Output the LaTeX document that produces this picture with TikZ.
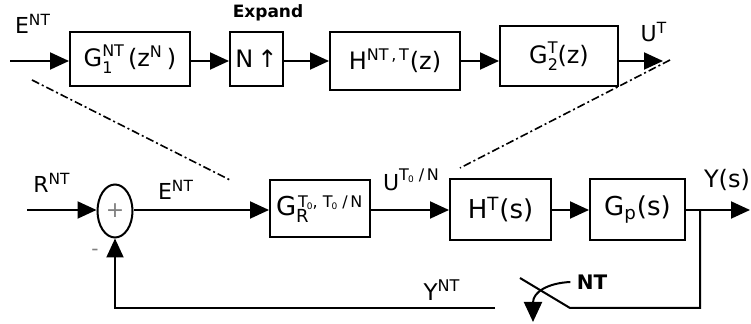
\documentclass[tikz,border=0pt]{standalone}
\usepackage{fontspec}
\setmainfont{DejaVu Sans}
\usetikzlibrary{arrows.meta,shapes.geometric}
\newcommand{\upsc}[1]{\textsuperscript{#1}}
% stacked index: subscript below, superscript above, both after the base letter
\newcommand{\subsup}[2]{\rlap{\raisebox{-3.5pt}{\fontsize{8}{8}\selectfont #1}}%
  \raisebox{5pt}{\fontsize{8}{8}\selectfont #2}}
\newcommand{\tnull}{T\kern-0.5pt\raisebox{-1pt}{\fontsize{4.5}{5}\selectfont 0}}

\begin{document}
\begin{tikzpicture}[x=0.5pt,y=-0.5pt,
  blk/.style={draw,line width=1pt,inner sep=0pt,align=center},
  sig/.style={line width=1pt,-{Triangle[length=9.5pt,width=8.5pt]}},
  wire/.style={line width=1pt},
  dd/.style={line width=0.8pt,dash pattern=on 4pt off 1.5pt on 1pt off 1.5pt},
  lbl/.style={inner sep=0pt,font=\fontsize{11}{13}\selectfont},
  topfont/.style={font=\fontsize{12}{14}\selectfont},
  botfont/.style={font=\fontsize{13}{15}\selectfont}]
\useasboundingbox (0,0) rectangle (751,324);

% --- upper chain: discrete-time realisation ---
\node[blk,topfont,minimum width=60pt,minimum height=27pt] (g1) at (130,59)
  {G\subsup{1}{NT}\,(z\upsc{N}\,)};
\node[blk,topfont,minimum width=26.5pt,minimum height=27pt] (up) at (256.5,59) {N\,↑};
\node[blk,topfont,minimum width=65pt,minimum height=29pt] (h) at (395,61)
  {H\upsc{NT\,,\,T}(z)};
\node[blk,topfont,minimum width=59pt,minimum height=30pt] (g2) at (559,56)
  {G\subsup{2}{T}(z)};

\coordinate (ein) at (10,61);
\coordinate (uout) at (663,61);
\draw[sig] (ein) -- (g1.west |- ein);
\draw[sig] (g1.east |- ein) -- (up.west |- ein);
\draw[sig] (up.east |- ein) -- (h.west |- ein);
\draw[sig] (h.east |- ein) -- (g2.west |- ein);
\draw[sig] (g2.east |- ein) -- (uout);

\node[lbl,font=\fontsize{11}{12}\selectfont] (eTop) at (33,24) {E\upsc{NT}};
\node[lbl,font=\bfseries\fontsize{8.5}{10}\selectfont] (expand) at (268,13) {Expand};
\node[lbl,font=\fontsize{11}{12}\selectfont] (uT) at (654,32) {U\upsc{T}};

% --- lower loop: sampled control loop ---
\node[draw,ellipse,line width=1pt,inner sep=0pt,minimum width=17.5pt,minimum height=26.5pt,
  font=\fontsize{11}{12}\selectfont,text=gray] (sum) at (115,211) {+};
\node[blk,botfont,minimum width=50pt,minimum height=28.5pt] (gr) at (320,209)
  {\makebox[44pt][l]{G\rlap{\raisebox{-3.5pt}{\fontsize{9}{10}\selectfont R}}\kern1pt%
   \raisebox{4pt}{\fontsize{8}{9}\selectfont \tnull, \tnull\ /\,N}}};
\node[blk,botfont,minimum width=50.5pt,minimum height=30.5pt] (ht) at (500.5,209.5)
  {H\upsc{T}(s)};
\node[blk,botfont,minimum width=47.5pt,minimum height=30.5pt] (gp) at (637.5,209.5)
  {G\textsubscript{p}(s)};

\coordinate (rin) at (27,210);
\coordinate (br) at (700,210);
\coordinate (yout) at (750,210);
\draw[sig] (rin) -- (sum.west |- rin);
\draw[sig] (sum.east |- rin) -- (gr.west |- rin);
\draw[sig] (gr.east |- rin) -- (ht.west |- rin);
\draw[sig] (ht.east |- rin) -- (gp.west |- rin);
\draw[sig] (gp.east |- rin) -- (yout);

% feedback path with the sampling switch
\coordinate (swr) at (570,308);
\coordinate (swt) at (520,278);
\coordinate (swl) at (495,308);
\draw[wire] (br) |- (swr) -- (swt);
\draw[sig] (swl) -| (sum.south);

\node[lbl,font=\bfseries\fontsize{10}{12}\selectfont] (nt) at (592,282) {NT};
\coordinate (swtip) at (533,322);
\draw[line width=1pt,-{Triangle[length=10pt,width=9pt]}] (nt.west) ++(-3pt,0)
  .. controls (548,283) and (533,292) .. (swtip);

\node[lbl] (rNT) at (52,183) {R\upsc{NT}};
\node[lbl] (eNT) at (176,190) {E\upsc{NT}};
\node[lbl] (uTN) at (411,180) {U\raisebox{5pt}{\fontsize{8}{9}\selectfont\tnull\ /\,N}};
\node[lbl,font=\fontsize{12}{14}\selectfont] (ys) at (727,180) {Y(s)};
\node[lbl,font=\fontsize{11.5}{13}\selectfont] (yNT) at (442,290) {Y\upsc{NT}};
\node[lbl,font=\fontsize{10}{11}\selectfont,text=gray] (minus) at (95,252) {-};

% zoom lines linking the controller to its expansion
\coordinate (zl1) at (32,80);
\coordinate (zl2) at (230,180);
\coordinate (zr1) at (670,60);
\coordinate (zr2) at (460,168);
\draw[dd] (zl1) -- (zl2);
\draw[dd] (zr1) -- (zr2);
\end{tikzpicture}
\end{document}
